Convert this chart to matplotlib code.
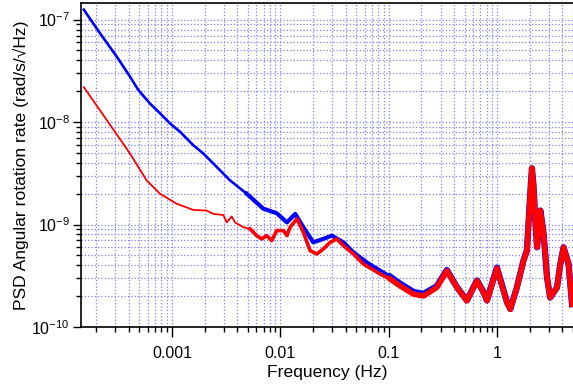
import matplotlib
matplotlib.use('Agg')
import matplotlib.pyplot as plt
import matplotlib.ticker as ticker
import numpy as np

plt.rcParams['font.family'] = ['Liberation Sans', 'DejaVu Sans']
plt.rcParams['mathtext.default'] = 'regular'

# low-frequency part (smooth)
freqLow = [1.54e-4, 2.16e-4, 3.09e-4, 4.10e-4, 4.89e-4, 6.26e-4, 7.75e-4, 9.6e-4,
           1.19e-3, 1.57e-3, 1.95e-3, 2.41e-3, 3.43e-3, 4.89e-3]
blueLow = [1.25e-7, 7.41e-8, 4.37e-8, 2.78e-8, 2.06e-8, 1.52e-8, 1.22e-8, 9.7e-9,
           8.03e-9, 5.96e-9, 4.93e-9, 3.94e-9, 2.70e-9, 2.00e-9]

freqRedLow = [1.54e-4, 2.16e-4, 2.98e-4, 4.10e-4, 5.84e-4, 7.75e-4, 1.10e-3, 1.57e-3,
              2.09e-3, 2.41e-3, 2.98e-3, 3.20e-3, 3.56e-3, 3.82e-3, 4.55e-3, 5.25e-3]
redLow = [2.19e-8, 1.31e-8, 8.03e-9, 4.93e-9, 2.70e-9, 2.00e-9, 1.60e-9, 1.39e-9,
          1.37e-9, 1.27e-9, 1.24e-9, 1.05e-9, 1.20e-9, 1.05e-9, 9.42e-10, 9.08e-10]

# mid band (noisier)
freqBlueMid = [4.89e-3, 6.96e-3, 9.25e-3, 1.15e-2, 1.37e-2, 1.63e-2, 2.01e-2, 2.49e-2,
               2.98e-2, 3.81e-2, 4.72e-2, 6.27e-2, 8.32e-2, 0.103]
blueMid = [2.00e-9, 1.43e-9, 1.29e-9, 1.05e-9, 1.27e-9, 9.42e-10, 6.71e-10, 7.24e-10,
           7.80e-10, 6.71e-10, 5.35e-10, 4.27e-10, 3.54e-10, 3.1e-10]

freqRedMid = [5.25e-3, 6.05e-3, 6.73e-3, 7.48e-3, 8.32e-3, 9.25e-3, 1.07e-2, 1.15e-2,
              1.23e-2, 1.42e-2, 1.63e-2, 1.88e-2, 2.17e-2, 2.49e-2, 2.88e-2, 3.31e-2,
              3.81e-2, 4.72e-2, 5.83e-2, 8.32e-2, 0.103]
redMid = [9.08e-10, 7.80e-10, 7.24e-10, 7.80e-10, 6.97e-10, 8.73e-10, 8.73e-10, 7.80e-10,
          9.42e-10, 1.14e-9, 8.41e-10, 5.56e-10, 5.16e-10, 5.78e-10, 6.71e-10, 7.24e-10,
          6.22e-10, 5.16e-10, 4.12e-10, 3.29e-10, 2.94e-10]

# high-frequency part (both nearly overlapping)
freqHigh = [0.103, 0.127, 0.169, 0.209, 0.277, 0.343, 0.425, 0.525, 0.650, 0.748, 0.804,
            0.994, 1.23, 1.32, 1.52, 1.75, 1.88, 2.00, 2.09, 2.16, 2.24, 2.33, 2.50,
            2.68, 2.88, 3.08, 3.56, 3.82, 4.09, 4.55, 4.90]
blueHigh = [3.1e-10, 2.65e-10, 2.2e-10, 2.1e-10, 2.5e-10, 3.6e-10, 2.45e-10, 1.82e-10,
            2.85e-10, 2.2e-10, 1.82e-10, 3.8e-10, 1.75e-10, 1.5e-10, 2.45e-10, 4.5e-10,
            5.6e-10, 1.72e-9, 3.54e-9, 2.41e-9, 1.18e-9, 6.0e-10, 1.37e-9, 8.11e-10,
            3.04e-10, 1.94e-10, 2.43e-10, 4.12e-10, 6.0e-10, 4.12e-10, 1.67e-10]
redHigh = [2.94e-10, 2.52e-10, 2.09e-10, 2.01e-10, 2.43e-10, 3.54e-10, 2.43e-10, 1.80e-10,
           2.83e-10, 2.17e-10, 1.80e-10, 3.75e-10, 1.73e-10, 1.49e-10, 2.43e-10, 4.44e-10,
           5.56e-10, 1.72e-9, 3.54e-9, 2.41e-9, 1.18e-9, 6.0e-10, 1.37e-9, 8.11e-10,
           3.04e-10, 1.94e-10, 2.43e-10, 4.12e-10, 6.0e-10, 4.12e-10, 1.67e-10]

fig = plt.figure(figsize=(5.73, 3.87), dpi=100)
ax = fig.add_axes([0.1414, 0.155, 0.8586, 0.837])

blue = '#0000ff'
red = '#ff0000'
ax.plot(freqLow, blueLow, color=blue, lw=1.9)
ax.plot(freqBlueMid, blueMid, color=blue, lw=3.0)
ax.plot(freqHigh, blueHigh, color=blue, lw=4.5)
ax.plot(freqRedLow, redLow, color=red, lw=1.3)
ax.plot(freqRedMid, redMid, color=red, lw=2.6)
ax.plot(freqHigh, redHigh, color=red, lw=4.0)

ax.set_xscale('log')
ax.set_yscale('log')
ax.set_xlim(1.45e-4, 5.0)
ax.set_ylim(1e-10, 1.45e-7)

ax.grid(True, which='both', color='#8080ff', linestyle=':', linewidth=0.9)
ax.xaxis.set_major_formatter(ticker.FuncFormatter(lambda v, _: '{:g}'.format(v)))
ax.xaxis.set_minor_formatter(ticker.NullFormatter())
ax.yaxis.set_minor_locator(ticker.LogLocator(base=10, subs=np.arange(2, 10), numticks=20))
ax.xaxis.set_minor_locator(ticker.LogLocator(base=10, subs=np.arange(2, 10), numticks=20))
ax.yaxis.set_minor_formatter(ticker.NullFormatter())

ax.tick_params(axis='x', which='major', direction='out', length=7.5, width=1, labelsize=11.5, pad=6)
ax.tick_params(axis='y', which='major', direction='out', length=6, width=1, labelsize=11.5, pad=2)
ax.tick_params(which='minor', direction='out', length=3.5, width=1)
ax.spines['right'].set_visible(False)
for s in ['left', 'bottom', 'top']:
    ax.spines[s].set_linewidth(1.2)

ax.set_xlabel('Frequency (Hz)', fontsize=12.6, labelpad=3)
ax.set_ylabel('PSD Angular rotation rate (rad/s/\u221aHz)', fontsize=12.6, labelpad=2)

fig.savefig('out.png', dpi=100)
